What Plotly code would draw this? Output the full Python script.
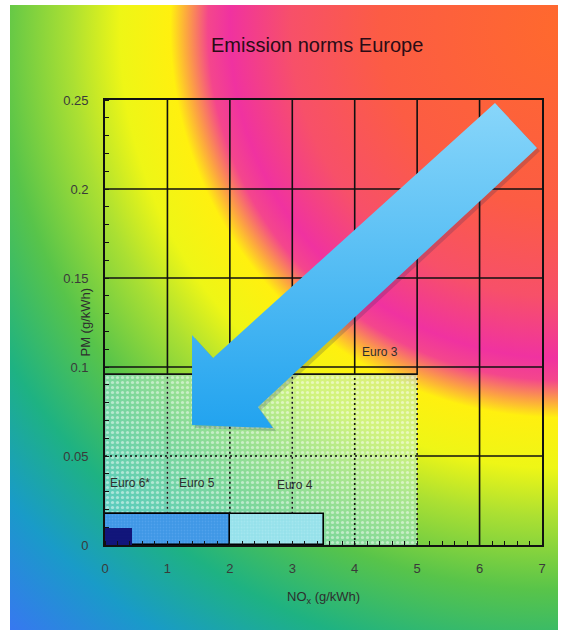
import base64
import plotly.graph_objects as go

# ---- data -------------------------------------------------------------
standards = ["Euro 3", "Euro 4", "Euro 5", "Euro 6*"]
nox_limit = [5.0, 3.5, 2.0, 0.43]          # g/kWh
pm_limit = [0.096, 0.0175, 0.0175, 0.0095]  # g/kWh

x_ticks = [0, 1, 2, 3, 4, 5, 6, 7]
x_tick_labels = ["0", "1", "2", "3", "4", "5", "6", "7"]
y_ticks = [0, 0.05, 0.1, 0.15, 0.2, 0.25]
y_tick_labels = ["0", "0.05", "0.1", "0.15", "0.2", "0.25"]

# ---- styling ----------------------------------------------------------
FONT = "Liberation Sans, Arial, sans-serif"
bar_style = {
    "Euro 3": dict(color="rgba(175,240,250,0.45)", fg="rgba(255,255,255,0.95)",
                   size=5, solidity=0.32, line=0),
    "Euro 4": dict(color="rgba(150,225,238,0.95)", fg="rgba(230,255,255,0.35)",
                   size=3, solidity=0.3, line=1.6),
    "Euro 5": dict(color="rgba(60,148,230,0.97)", fg="rgba(160,210,255,0.35)",
                   size=3, solidity=0.3, line=1.6),
    "Euro 6*": dict(color="#11157a", fg="#11157a", size=3, solidity=0.1, line=0),
}
label_pos = {
    "Euro 3": (4.40, 0.1085),
    "Euro 4": (3.04, 0.0337),
    "Euro 5": (1.47, 0.0348),
    "Euro 6*": (0.40, 0.0348),
}

# big decorative arrow (NOx, PM coordinates of its outline)
arrow_x = [6.247, 6.920, 2.451, 2.691, 1.394, 1.394, 1.730, 6.247]
arrow_y = [0.2483, 0.2230, 0.0775, 0.0657, 0.0674, 0.1180, 0.1051, 0.2483]

# figure geometry
W, H = 567, 636
ML, MR, MT, MB = 105, 25, 100, 91
PW, PH = W - ML - MR, H - MT - MB

# ---- radial background ------------------------------------------------
stops = [
    (0.000, (255, 105, 45)),
    (0.220, (252, 92, 68)),
    (0.330, (247, 80, 105)),
    (0.405, (240, 50, 160)),
    (0.432, (244, 70, 140)),
    (0.458, (252, 165, 65)),
    (0.478, (255, 240, 15)),
    (0.540, (238, 246, 22)),
    (0.600, (172, 224, 50)),
    (0.690, (88, 196, 74)),
    (0.790, (30, 178, 130)),
    (0.890, (25, 155, 200)),
    (1.000, (55, 120, 240)),
]
stop_xml = "".join(
    f'<stop offset="{o}" stop-color="rgb({c[0]},{c[1]},{c[2]})"/>' for o, c in stops
)
svg = (
    f'<svg xmlns="http://www.w3.org/2000/svg" width="{W}" height="{H}" '
    f'viewBox="0 0 {W} {H}"><defs><radialGradient id="g" gradientUnits="userSpaceOnUse" '
    f'cx="560" cy="28" r="815">{stop_xml}</radialGradient></defs>'
    f'<rect x="10" y="5" width="548" height="625" fill="url(#g)"/></svg>'
)
bg_src = "data:image/svg+xml;base64," + base64.b64encode(svg.encode()).decode()

fig = go.Figure()

# ---- limit boxes ------------------------------------------------------
for name, nox, pm in zip(standards, nox_limit, pm_limit):
    st = bar_style[name]
    fig.add_trace(go.Bar(
        x=[nox / 2], y=[pm], width=[nox], base=0,
        marker=dict(
            color=st["color"],
            line=dict(color="black", width=st["line"]),
            pattern=dict(shape=".", fgcolor=st["fg"], size=st["size"],
                         solidity=st["solidity"], fillmode="overlay"),
        ),
        hoverinfo="skip",
    ))

# ---- grid: solid outside the Euro 3 box, dotted inside ---------------
e3_nox, e3_pm = nox_limit[0], pm_limit[0]
e4_nox, e4_pm = nox_limit[1], pm_limit[1]
x_min, x_max = x_ticks[0], x_ticks[-1]
y_min, y_max = y_ticks[0], y_ticks[-1]

solid_x, solid_y, dot_x, dot_y = [], [], [], []
for xv in x_ticks[1:-1]:
    if xv <= e3_nox:
        solid_x += [xv, xv, None]
        solid_y += [e3_pm, y_max, None]
        lo = e4_pm if xv < e4_nox else y_min
        dot_x += [xv, xv, None]
        dot_y += [lo, e3_pm, None]
    else:
        solid_x += [xv, xv, None]
        solid_y += [y_min, y_max, None]
for yv in y_ticks[1:-1]:
    if yv < e3_pm:
        dot_x += [x_min, e3_nox, None]
        dot_y += [yv, yv, None]
        solid_x += [e3_nox, x_max, None]
        solid_y += [yv, yv, None]
    else:
        solid_x += [x_min, x_max, None]
        solid_y += [yv, yv, None]
# top edge of the Euro 3 box
solid_x += [x_min, e3_nox, None]
solid_y += [e3_pm, e3_pm, None]

fig.add_trace(go.Scatter(x=solid_x, y=solid_y, mode="lines",
                         line=dict(color="#111", width=1.6), hoverinfo="skip"))
fig.add_trace(go.Scatter(x=dot_x, y=dot_y, mode="lines",
                         line=dict(color="#111", width=1.6, dash="2px,3px"),
                         hoverinfo="skip"))

# ---- arrow ------------------------------------------------------------
dx, dy = 3 / (PW / 7), 3 / (PH / 0.25)
fig.add_trace(go.Scatter(
    x=[v + dx for v in arrow_x],
    y=[v - dy for v in arrow_y],
    mode="lines", fill="toself", line=dict(width=0),
    fillcolor="rgba(30,40,90,0.2)", hoverinfo="skip"))
fig.add_trace(go.Scatter(
    x=arrow_x, y=arrow_y, mode="lines", fill="toself",
    line=dict(width=0, color="rgba(0,0,0,0)"),
    fillgradient=dict(type="vertical",
                      colorscale=[[0, "#22a3ef"], [0.5, "#55bdf4"], [1, "#88d6fa"]]),
    hoverinfo="skip"))

# ---- labels -----------------------------------------------------------
annotations = []
for name in standards:
    lx, ly = label_pos[name]
    annotations.append(dict(x=lx, y=ly, xref="x", yref="y", text=name, showarrow=False,
                            font=dict(family=FONT, size=12, color="#2e2e2e")))
annotations += [
    dict(x=(317 - ML) / PW, y=1 + (MT - 45) / PH, xref="paper", yref="paper",
         text="Emission norms Europe", showarrow=False, xanchor="center", yanchor="middle",
         font=dict(family=FONT, size=20, color="#2a0c16")),
    dict(x=0.5, y=-(597 - (H - MB)) / PH, xref="paper", yref="paper",
         text="NO<sub>x</sub> (g/kWh)", showarrow=False, xanchor="center", yanchor="middle",
         font=dict(family=FONT, size=13, color="#2e2e2e")),
    dict(x=-(ML - 85) / PW, y=0.5, xref="paper", yref="paper", textangle=-90,
         text="PM (g/kWh)", showarrow=False, xanchor="center", yanchor="middle",
         font=dict(family=FONT, size=13, color="#2e2e2e")),
]

axis_common = dict(showgrid=False, zeroline=False, showline=True, mirror=True,
                   linecolor="#111", linewidth=1.6, ticks="", fixedrange=True,
                   tickfont=dict(family=FONT, size=13, color="#3a3a3a"))
fig.update_xaxes(range=[x_min, x_max], tickmode="array", tickvals=x_ticks,
                 ticktext=x_tick_labels, ticklabelstandoff=11,
                 minor=dict(dtick=0.2, ticks="inside", ticklen=4, tickwidth=1,
                            tickcolor="#111", showgrid=False),
                 **axis_common)
fig.update_yaxes(range=[y_min, y_max], tickmode="array", tickvals=y_ticks,
                 ticktext=y_tick_labels, ticklabelstandoff=12,
                 minor=dict(dtick=0.01, ticks="inside", ticklen=4, tickwidth=1,
                            tickcolor="#111", showgrid=False),
                 **axis_common)

fig.update_layout(
    width=W, height=H,
    margin=dict(l=ML, r=MR, t=MT, b=MB),
    paper_bgcolor="white", plot_bgcolor="rgba(0,0,0,0)",
    barmode="overlay", bargap=0, showlegend=False,
    annotations=annotations,
    images=[dict(source=bg_src, xref="paper", yref="paper",
                 x=-ML / PW, y=1 + MT / PH, sizex=W / PW, sizey=H / PH,
                 xanchor="left", yanchor="top", sizing="stretch", layer="below")],
)

fig.write_html("out.html")
